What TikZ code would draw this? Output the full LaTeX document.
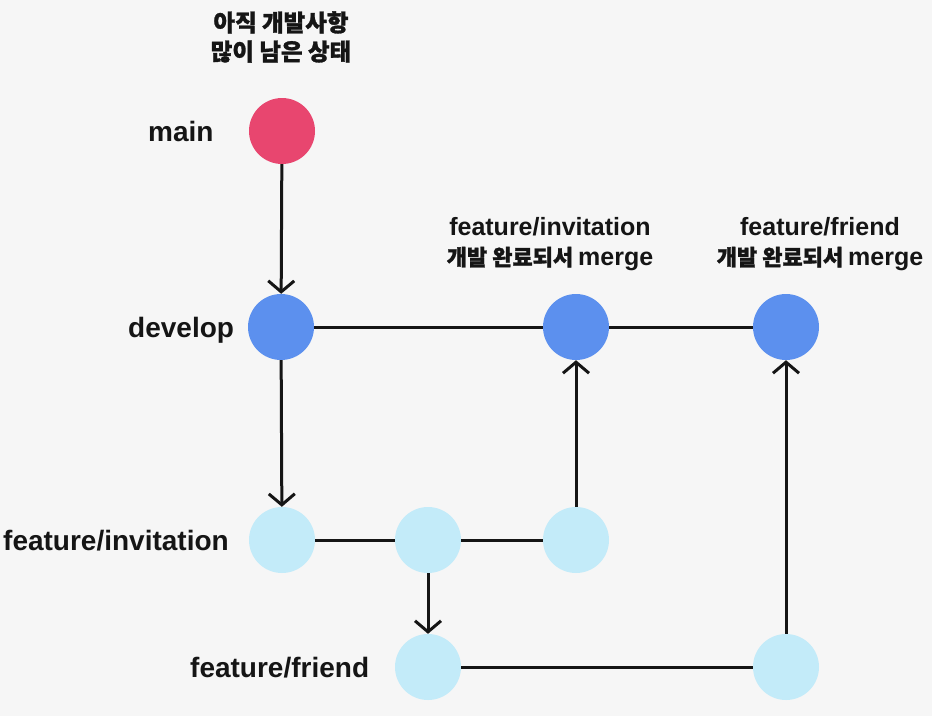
\documentclass[tikz,border=0pt]{standalone}
\usepackage{fontspec}
% every Latin label is set in the bold cut
\setmainfont{Liberation Sans}[UprightFont=* Bold, BoldFont=* Bold]
\newfontfamily\kr{Noto Sans CJK KR}[FakeBold=1.2]
\usetikzlibrary{arrows.meta}
\definecolor{bg}{HTML}{F6F6F6}
\definecolor{mainc}{HTML}{E8466F}
\definecolor{devc}{HTML}{5C90EE}
\definecolor{featc}{HTML}{C3EBF9}
\definecolor{ink}{HTML}{151515}
\newcommand\krtext[1]{{\kr\bfseries\fontsize{22}{30}\selectfont #1}}
\begin{document}
\begin{tikzpicture}[x=1pt,y=-1pt,
  commit/.style={circle, minimum size=66pt, inner sep=0pt, draw=none},
  maincommit/.style={commit, fill=mainc},
  devcommit/.style={commit, fill=devc},
  featcommit/.style={commit, fill=featc},
  branchlabel/.style={anchor=base west, inner sep=0pt, text=ink,
    font=\fontsize{28}{30}\selectfont},
  note/.style={align=center, inner sep=0pt, text=ink},
  mergenote/.style={note, font=\fontsize{25}{30}\selectfont},
  link/.style={line width=3pt, draw=ink},
  flow/.style={link, -{Straight Barb[length=11pt,width=26pt,line width=3pt]}}
]
\fill[bg] (0,0) rectangle (932,716);
\useasboundingbox (0,0) rectangle (932,716);

% commits
\node[maincommit] (m)  at (282,131) {};
\node[devcommit]  (d0) at (281,327) {};
\node[devcommit]  (d1) at (576,327) {};
\node[devcommit]  (d2) at (786,327) {};
\node[featcommit] (i0) at (282,540) {};
\node[featcommit] (i1) at (428,540) {};
\node[featcommit] (i2) at (576,540) {};
\node[featcommit] (f0) at (428,667) {};
\node[featcommit] (f1) at (786,667) {};

% branch names
\node[branchlabel] (lm) at (148,141) {main};
\node[branchlabel] (ld) at (128,337) {develop};
\node[branchlabel] (li) at (3,550) {feature/invitation};
\node[branchlabel] (lf) at (190,677) {feature/friend};

% notes
\node[note, font=\kr\bfseries\fontsize{23.5}{29}\selectfont] (n0) at (281,37)
  {아직 개발사항\\많이 남은 상태};
\node[mergenote] (n1) at (550,244)
  {feature/invitation\\\krtext{개발 완료되서 }merge};
\node[mergenote] (n2) at (820,244)
  {feature/friend\\\krtext{개발 완료되서 }merge};

% history
\draw[flow] (m) -- (d0);
\draw[link] (d0) -- (d1);
\draw[link] (d1) -- (d2);
\draw[flow] (d0) -- (i0);
\draw[link] (i0) -- (i1);
\draw[link] (i1) -- (i2);
\draw[flow] (i2) -- (d1);
\draw[flow] (i1) -- (f0);
\draw[link] (f0) -- (f1);
\draw[flow] (f1) -- (d2);
\end{tikzpicture}
\end{document}
